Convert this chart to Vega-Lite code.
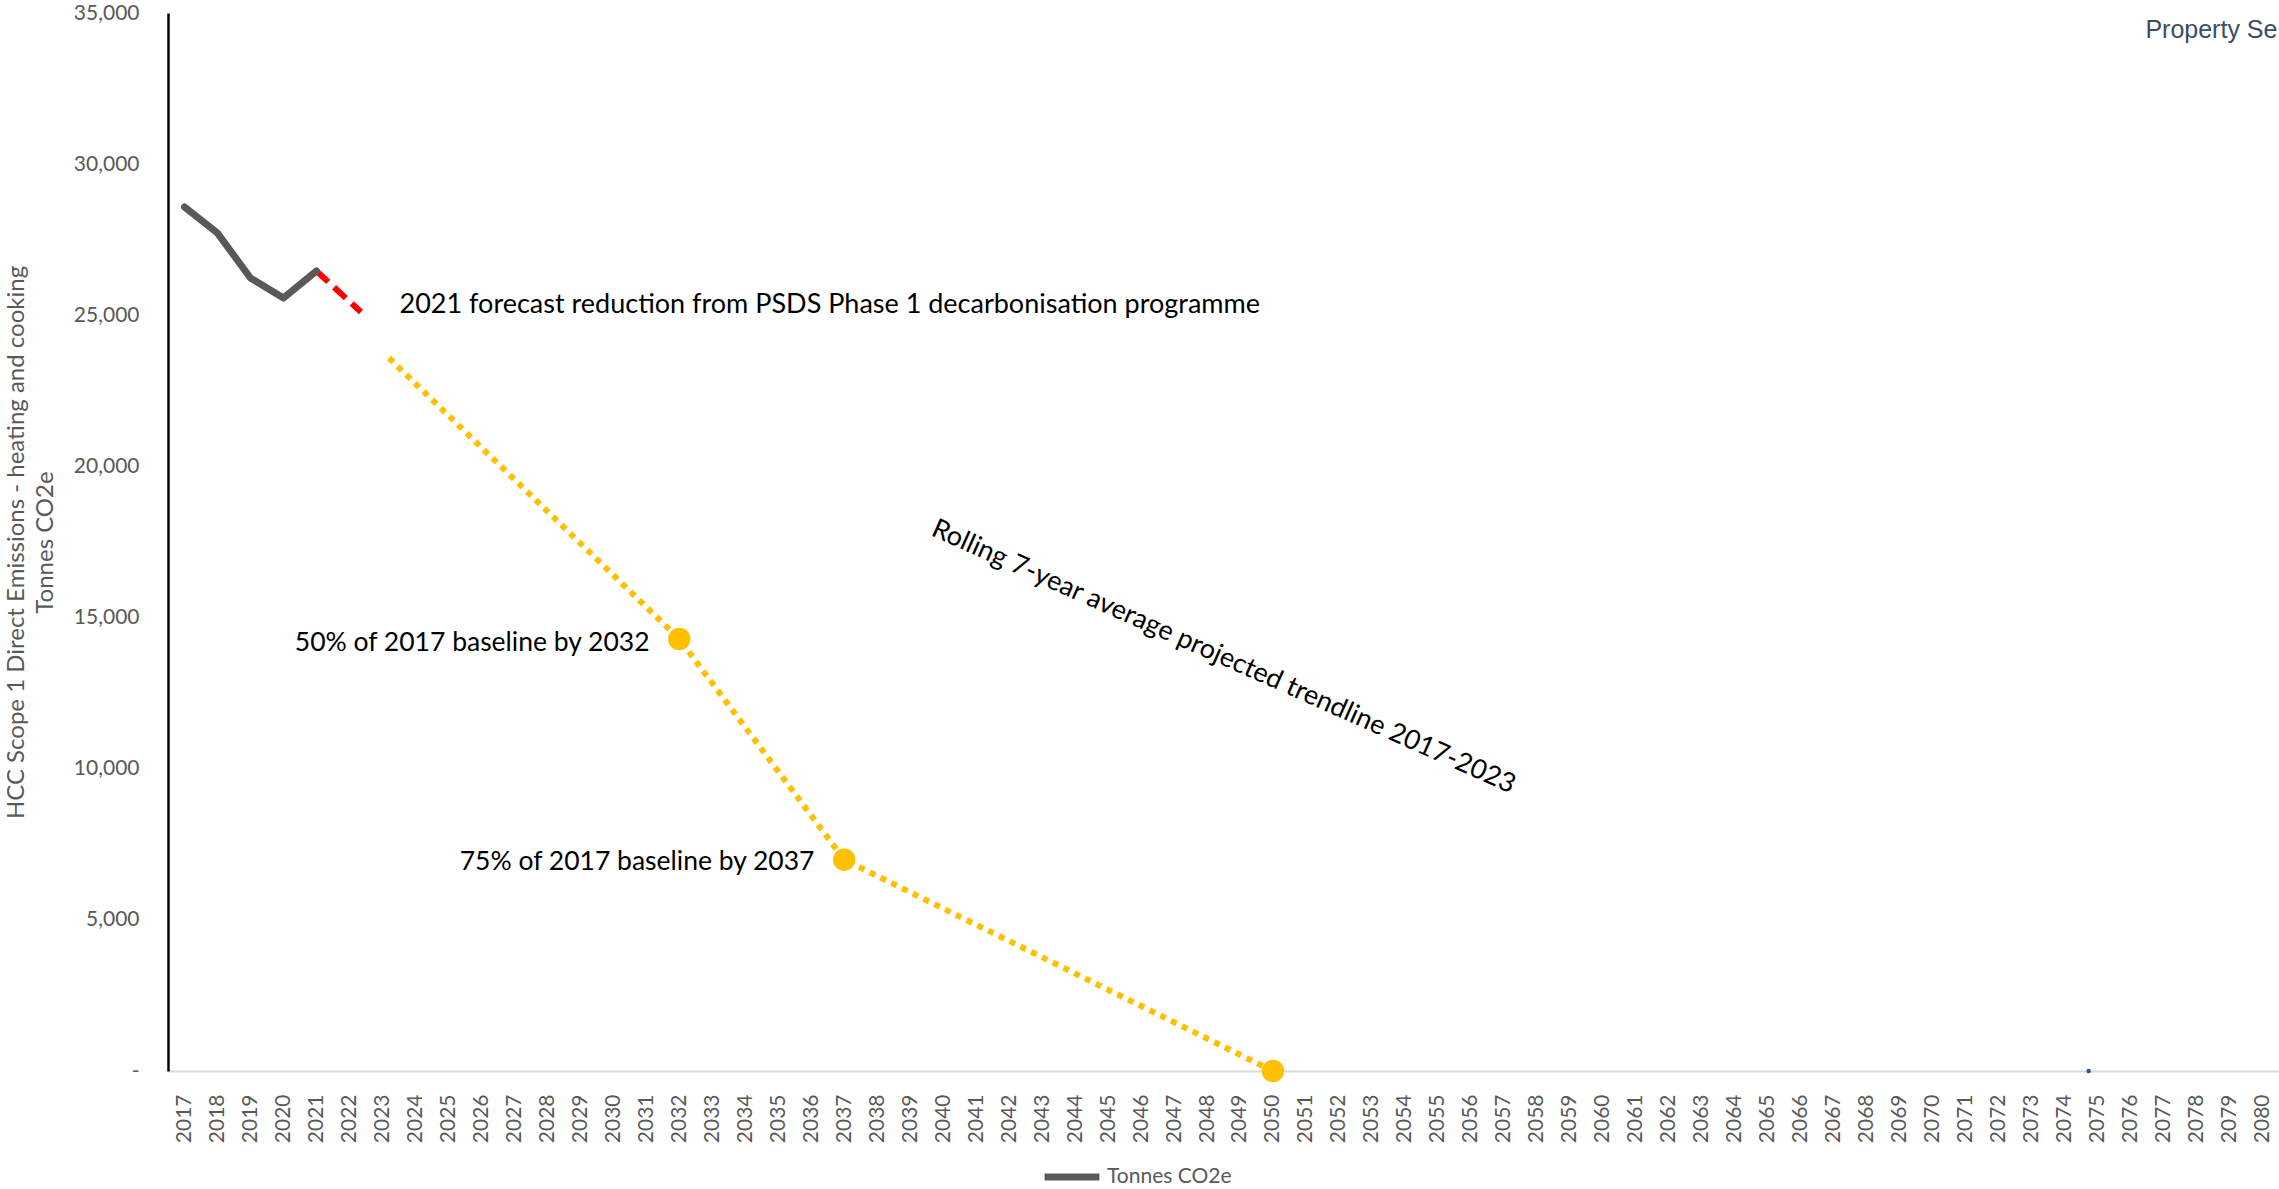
{
  "$schema": "https://vega.github.io/schema/vega-lite/v6.json",
  "autosize": {"type": "none"},
  "width": 2111,
  "height": 1058,
  "padding": {"left": 168, "top": 13, "right": 0, "bottom": 118},
  "background": "white",
  "config": {"view": {"stroke": null}, "font": "Lato"},
  "datasets": {
    "actual": [
      {"year": 2017, "value": 28583, "series": "Tonnes CO2e"},
      {"year": 2018, "value": 27720, "series": "Tonnes CO2e"},
      {"year": 2019, "value": 26233, "series": "Tonnes CO2e"},
      {"year": 2020, "value": 25572, "series": "Tonnes CO2e"},
      {"year": 2021, "value": 26464, "series": "Tonnes CO2e"}
    ],
    "forecast": [
      {"year": 2021, "value": 26464},
      {"year": 2022.35, "value": 25108}
    ],
    "target": [
      {"year": 2023.2, "value": 23586},
      {"year": 2032, "value": 14292},
      {"year": 2037, "value": 6990},
      {"year": 2050, "value": 0}
    ],
    "milestones": [
      {"year": 2032, "value": 14292},
      {"year": 2037, "value": 6990},
      {"year": 2050, "value": 0}
    ],
    "trend": [
      {"year": 2074.73, "value": 0}
    ],
    "notesLeft": [
      {"year": 2023.52, "value": 25340, "label": "2021 forecast reduction from PSDS Phase 1 decarbonisation programme"}
    ],
    "notesRight": [
      {"year": 2031.1, "value": 14158, "label": "50% of 2017 baseline by 2032"},
      {"year": 2036.1, "value": 6914, "label": "75% of 2017 baseline by 2037"}
    ],
    "notesRot": [
      {"year": 2048.5, "value": 13695, "label": "Rolling 7-year average projected trendline 2017-2023"}
    ],
    "brand": [
      {"year": 2076.45, "value": 34170, "label": "Property Se"}
    ]
  },
  "encoding": {
    "x": {
      "field": "year", "type": "quantitative",
      "scale": {"domain": [2016.5, 2080.5], "nice": false, "zero": false},
      "axis": {
        "values": [2017,2018,2019,2020,2021,2022,2023,2024,2025,2026,2027,2028,2029,2030,2031,2032,2033,2034,2035,2036,2037,2038,2039,2040,2041,2042,2043,2044,2045,2046,2047,2048,2049,2050,2051,2052,2053,2054,2055,2056,2057,2058,2059,2060,2061,2062,2063,2064,2065,2066,2067,2068,2069,2070,2071,2072,2073,2074,2075,2076,2077,2078,2079,2080],
        "format": "d", "labelAngle": -90, "grid": false, "ticks": false, "tickSize": 0,
        "domainColor": "#d9d9d9", "domainWidth": 2, "labelColor": "#595959",
        "labelFont": "Lato", "labelFontSize": 21, "labelPadding": 23,
        "labelFlush": false, "labelOverlap": false, "title": null
      }
    },
    "y": {
      "field": "value", "type": "quantitative",
      "scale": {"domain": [0, 35000], "nice": false},
      "axis": {
        "values": [0, 5000, 10000, 15000, 20000, 25000, 30000, 35000],
        "labelExpr": "datum.value == 0 ? '-' : format(datum.value, ',')",
        "grid": false, "ticks": false, "tickSize": 0,
        "domainColor": "#000000", "domainWidth": 2.5,
        "labelColor": "#595959", "labelFont": "Lato", "labelFontSize": 21, "labelPadding": 29,
        "labelFlush": false, "labelOverlap": false,
        "title": ["HCC Scope 1 Direct Emissions - heating and cooking", "Tonnes CO2e"],
        "titleFont": "Lato", "titleFontSize": 24, "titleFontWeight": "normal", "titleColor": "#595959",
        "titlePadding": 16, "titleLineHeight": 29
      }
    }
  },
  "layer": [
    {
      "data": {"name": "target"},
      "mark": {"type": "line", "color": "#FFC000", "strokeWidth": 6, "strokeDash": [6, 6], "strokeCap": "butt"}
    },
    {
      "data": {"name": "milestones"},
      "mark": {"type": "point", "filled": true, "color": "#FFC000", "size": 500, "opacity": 1}
    },
    {
      "data": {"name": "forecast"},
      "mark": {"type": "line", "color": "#FF0000", "strokeWidth": 6, "strokeDash": [16, 8], "strokeCap": "butt"}
    },
    {
      "data": {"name": "actual"},
      "mark": {"type": "line", "strokeWidth": 7, "strokeCap": "round", "strokeJoin": "round"},
      "encoding": {
        "color": {
          "field": "series", "type": "nominal",
          "scale": {"domain": ["Tonnes CO2e"], "range": ["#595959"]},
          "legend": {
            "orient": "none", "legendX": 873, "legendY": 1133, "title": null,
            "symbolType": "stroke", "symbolStrokeWidth": 7, "symbolSize": 3000,
            "labelFont": "Lato", "labelFontSize": 21, "labelColor": "#595959"
          }
        }
      }
    },
    {
      "data": {"name": "trend"},
      "mark": {"type": "point", "filled": true, "color": "#2F5597", "size": 20, "opacity": 1}
    },
    {
      "data": {"name": "notesLeft"},
      "mark": {"type": "text", "align": "left", "baseline": "middle", "fontSize": 27, "font": "Lato", "color": "#000000"},
      "encoding": {"text": {"field": "label"}}
    },
    {
      "data": {"name": "notesRight"},
      "mark": {"type": "text", "align": "right", "baseline": "middle", "fontSize": 26.5, "font": "Lato", "color": "#000000"},
      "encoding": {"text": {"field": "label"}}
    },
    {
      "data": {"name": "notesRot"},
      "mark": {"type": "text", "align": "center", "baseline": "middle", "angle": 24, "fontSize": 27, "font": "Lato", "color": "#000000"},
      "encoding": {"text": {"field": "label"}}
    },
    {
      "data": {"name": "brand"},
      "mark": {"type": "text", "align": "left", "baseline": "alphabetic", "fontSize": 25, "font": "Liberation Sans", "color": "#3B4D60"},
      "encoding": {"text": {"field": "label"}}
    }
  ]
}
